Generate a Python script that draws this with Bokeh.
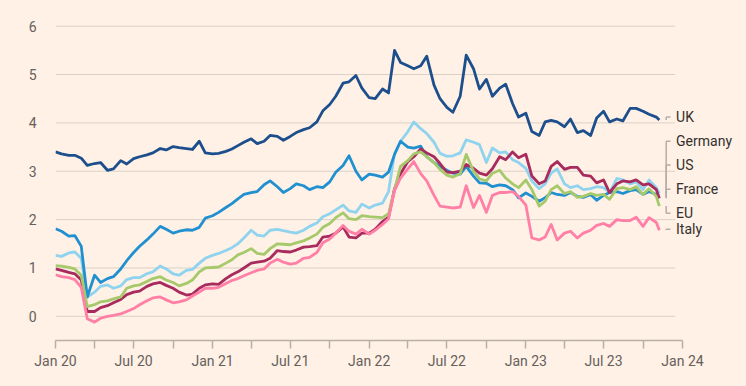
import pandas as pd
from datetime import datetime
from bokeh.plotting import figure
from bokeh.models import FixedTicker, Range1d, Label, CustomJSTickFormatter
from bokeh.embed import file_html
from bokeh.resources import INLINE

# semi-monthly observation dates, Jan 2020 - Nov 2023
dates = [f"{y}-{m:02d}-{d:02d}" for y in range(2020, 2024) for m in range(1, 13) for d in (1, 15)]
dates = dates[:dates.index("2023-11-01") + 1] + ["2023-11-08"]

uk = [3.40, 3.36, 3.33, 3.33, 3.27, 3.12, 3.16, 3.18, 3.02, 3.05, 3.22, 3.15, 3.26, 3.30, 3.34, 3.38, 3.47, 3.44, 3.51, 3.49, 3.47, 3.45, 3.62, 3.38,
      3.36, 3.37, 3.41, 3.46, 3.53, 3.60, 3.67, 3.57, 3.62, 3.74, 3.72, 3.64, 3.72, 3.80, 3.86, 3.90, 4.02, 4.25, 4.38, 4.55, 4.82, 4.85, 4.98, 4.72,
      4.52, 4.50, 4.70, 4.62, 5.50, 5.25, 5.18, 5.12, 5.18, 5.38, 4.78, 4.50, 4.32, 4.22, 4.55, 5.40, 5.12, 4.70, 4.90, 4.55, 4.72, 4.80, 4.40, 4.12,
      4.20, 3.82, 3.74, 4.02, 4.05, 4.02, 3.92, 4.08, 3.80, 3.84, 3.74, 4.10, 4.24, 4.02, 4.08, 4.04, 4.30, 4.30, 4.24, 4.18, 4.12, 4.06]
germany = [1.26, 1.24, 1.31, 1.33, 1.20, 0.40, 0.50, 0.62, 0.65, 0.58, 0.63, 0.76, 0.80, 0.80, 0.88, 0.92, 1.04, 0.98, 0.88, 0.85, 0.95, 0.97, 1.10, 1.20,
           1.26, 1.30, 1.36, 1.42, 1.50, 1.62, 1.78, 1.68, 1.66, 1.78, 1.80, 1.77, 1.74, 1.72, 1.78, 1.86, 1.93, 2.06, 2.12, 2.20, 2.30, 2.18, 2.15, 2.32,
           2.24, 2.30, 2.34, 2.58, 3.36, 3.62, 3.82, 4.02, 3.88, 3.78, 3.60, 3.37, 3.31, 3.32, 3.38, 3.65, 3.60, 3.55, 3.18, 3.48, 3.38, 3.40, 3.24, 3.18,
           3.06, 2.80, 2.64, 2.74, 2.96, 3.05, 2.74, 2.66, 2.70, 2.62, 2.64, 2.68, 2.66, 2.56, 2.85, 2.82, 2.74, 2.78, 2.62, 2.82, 2.66, 2.54]
us = [1.81, 1.76, 1.66, 1.67, 1.45, 0.40, 0.85, 0.70, 0.78, 0.82, 0.98, 1.15, 1.32, 1.45, 1.58, 1.70, 1.86, 1.80, 1.72, 1.76, 1.79, 1.78, 1.84, 2.03,
      2.08, 2.15, 2.25, 2.33, 2.43, 2.52, 2.56, 2.58, 2.72, 2.80, 2.68, 2.56, 2.64, 2.74, 2.70, 2.62, 2.68, 2.66, 2.78, 2.98, 3.12, 3.32, 3.00, 2.82,
      2.94, 2.92, 2.88, 2.98, 3.35, 3.62, 3.50, 3.48, 3.52, 3.30, 3.18, 3.10, 3.02, 2.96, 2.94, 3.10, 2.90, 2.76, 2.75, 2.68, 2.72, 2.70, 2.62, 2.45,
      2.55, 2.48, 2.38, 2.45, 2.56, 2.52, 2.50, 2.56, 2.48, 2.46, 2.52, 2.40, 2.50, 2.56, 2.58, 2.54, 2.60, 2.62, 2.52, 2.58, 2.52, 2.45]
france = [0.98, 0.95, 0.91, 0.88, 0.75, 0.10, 0.10, 0.18, 0.22, 0.28, 0.35, 0.45, 0.50, 0.52, 0.62, 0.67, 0.70, 0.64, 0.58, 0.50, 0.44, 0.46, 0.58, 0.65,
          0.67, 0.66, 0.78, 0.86, 0.92, 1.00, 1.10, 1.12, 1.14, 1.20, 1.36, 1.34, 1.33, 1.37, 1.43, 1.44, 1.46, 1.64, 1.66, 1.72, 1.85, 1.64, 1.62, 1.72,
          1.72, 1.80, 1.96, 2.05, 2.64, 2.95, 3.20, 3.30, 3.46, 3.38, 3.30, 3.16, 2.98, 2.97, 3.00, 3.14, 3.06, 2.96, 2.92, 3.05, 3.30, 3.24, 3.40, 3.28,
          3.35, 2.90, 2.74, 2.80, 3.10, 3.20, 3.04, 3.08, 3.08, 2.92, 2.90, 2.76, 2.82, 2.56, 2.74, 2.80, 2.78, 2.82, 2.72, 2.74, 2.62, 2.44]
eu = [1.05, 1.04, 1.01, 0.98, 0.85, 0.20, 0.24, 0.30, 0.32, 0.36, 0.40, 0.58, 0.63, 0.65, 0.72, 0.78, 0.82, 0.75, 0.70, 0.63, 0.68, 0.75, 0.92, 1.00,
      1.01, 1.02, 1.10, 1.17, 1.27, 1.32, 1.40, 1.30, 1.28, 1.40, 1.50, 1.49, 1.48, 1.52, 1.56, 1.62, 1.70, 1.84, 1.92, 2.04, 2.14, 2.02, 2.00, 2.08,
      2.06, 2.05, 2.04, 2.12, 2.62, 3.10, 3.22, 3.36, 3.40, 3.30, 3.18, 3.04, 2.92, 2.88, 2.95, 3.35, 3.00, 2.84, 2.80, 2.96, 3.02, 2.86, 2.74, 2.66,
      2.82, 2.62, 2.28, 2.38, 2.62, 2.70, 2.54, 2.58, 2.46, 2.48, 2.54, 2.50, 2.52, 2.42, 2.64, 2.66, 2.62, 2.68, 2.52, 2.64, 2.48, 2.28]
italy = [0.86, 0.82, 0.80, 0.76, 0.60, -0.05, -0.12, -0.04, 0.00, 0.02, 0.05, 0.10, 0.16, 0.24, 0.32, 0.38, 0.40, 0.34, 0.28, 0.30, 0.34, 0.42, 0.50, 0.58,
         0.58, 0.60, 0.68, 0.74, 0.78, 0.84, 0.90, 0.95, 0.98, 1.10, 1.18, 1.12, 1.08, 1.10, 1.20, 1.22, 1.32, 1.52, 1.60, 1.72, 1.88, 1.76, 1.70, 1.80,
         1.70, 1.78, 1.90, 2.02, 2.60, 2.86, 3.05, 3.20, 2.95, 2.80, 2.50, 2.28, 2.26, 2.24, 2.26, 2.70, 2.25, 2.50, 2.15, 2.50, 2.56, 2.56, 2.58, 2.48,
         2.30, 1.62, 1.58, 1.64, 1.90, 1.58, 1.72, 1.76, 1.62, 1.72, 1.78, 1.88, 1.92, 1.86, 2.00, 1.98, 1.98, 2.05, 1.86, 2.04, 1.94, 1.78]

names = ["UK", "Germany", "US", "France", "EU", "Italy"]
series = [uk, germany, us, france, eu, italy]
colors = ["#1d4f8c", "#8fd3ee", "#2190d1", "#a82b5d", "#a6c96b", "#ff7fa6"]
label_y = [4.12, 3.62, 3.13, 2.63, 2.13, 1.80]   # label placement (layout)
y_ticks = [0, 1, 2, 3, 4, 5, 6]

x = pd.to_datetime(dates)

ms = lambda s: pd.Timestamp(s).value // 10**6
x0 = ms("2020-01-01")
x_axis_end = ms("2024-01-01")
# frame: 55px .. 738px ; axis Jan20..Jan24 spans 55..682px
x_frame_end = x0 + (x_axis_end - x0) * (738 - 55) / (682 - 55)

p = figure(width=742, height=384, x_axis_type="datetime", output_backend="svg",
           toolbar_location=None, min_border_left=55, min_border_right=4,
           min_border_top=16, min_border_bottom=44,
           x_range=Range1d(x0, x_frame_end),
           y_range=Range1d(-0.5, 6.2))
p.background_fill_color = "#fff1e5"
p.border_fill_color = "#fff1e5"
p.outline_line_color = None

# horizontal grid lines (stop short of the labels)
grid_end = pd.Timestamp("2023-12-15")
p.segment(x0=[x[0]] * len(y_ticks), y0=y_ticks, x1=[grid_end] * len(y_ticks), y1=y_ticks,
          line_color="#dcd1c7", line_width=1)

for s, c in zip(series, colors):
    p.line(x, s, line_color=c, line_width=2.8, line_join="round")

qticks = [ts.value // 10**6 for ts in pd.date_range("2020-01-01", "2024-01-01", freq="QS")]
p.xaxis.ticker = FixedTicker(ticks=qticks)
p.xaxis.bounds = (x0, x_axis_end)
p.xaxis.formatter = CustomJSTickFormatter(code="""
const d = new Date(tick); const m = d.getUTCMonth();
const y = String(d.getUTCFullYear()).slice(2);
if (m === 0) return "Jan " + y;
if (m === 6) return "Jul " + y;
return "";
""")
p.xaxis.axis_line_color = "#b9afa6"
p.xaxis.axis_line_width = 1.5
p.xaxis.major_tick_line_color = "#b9afa6"
p.xaxis.major_tick_line_width = 1.5
p.xaxis.major_tick_out = 8
p.xaxis.major_tick_in = 0
p.xaxis.minor_tick_line_color = None
p.xaxis.major_label_standoff = 4

p.yaxis.ticker = FixedTicker(ticks=y_ticks)
p.yaxis.axis_line_color = None
p.yaxis.major_tick_line_color = None
p.yaxis.minor_tick_line_color = None
p.yaxis.major_label_standoff = 13

for ax in (p.xaxis, p.yaxis):
    ax.major_label_text_font = "Roboto"
    ax.major_label_text_font_size = "14px"
    ax.major_label_text_color = "#66605c"

p.xgrid.grid_line_color = None
p.ygrid.grid_line_color = None

# connectors and end labels
vx = datetime(2023, 11, 24)
hx = datetime(2023, 12, 4)
ends = [s[-1] for s in series]
p.segment(x0=[vx] * 6, y0=ends, x1=[vx] * 6, y1=label_y, line_color="#b5ada6", line_width=1.5)
p.segment(x0=[vx] * 6, y0=label_y, x1=[hx] * 6, y1=label_y, line_color="#b5ada6", line_width=1.5)

lx = ms("2023-12-17")
for n, ly in zip(names, label_y):
    p.add_layout(Label(x=lx, y=ly, text=n, text_baseline="middle", text_font="Roboto",
                       text_font_size="14px", text_color="#33302e"))

html = file_html(p, INLINE)
html = html.replace("</head>", "<style>body{background:#fff1e5;}</style></head>", 1)
open("out.html", "w").write(html)
